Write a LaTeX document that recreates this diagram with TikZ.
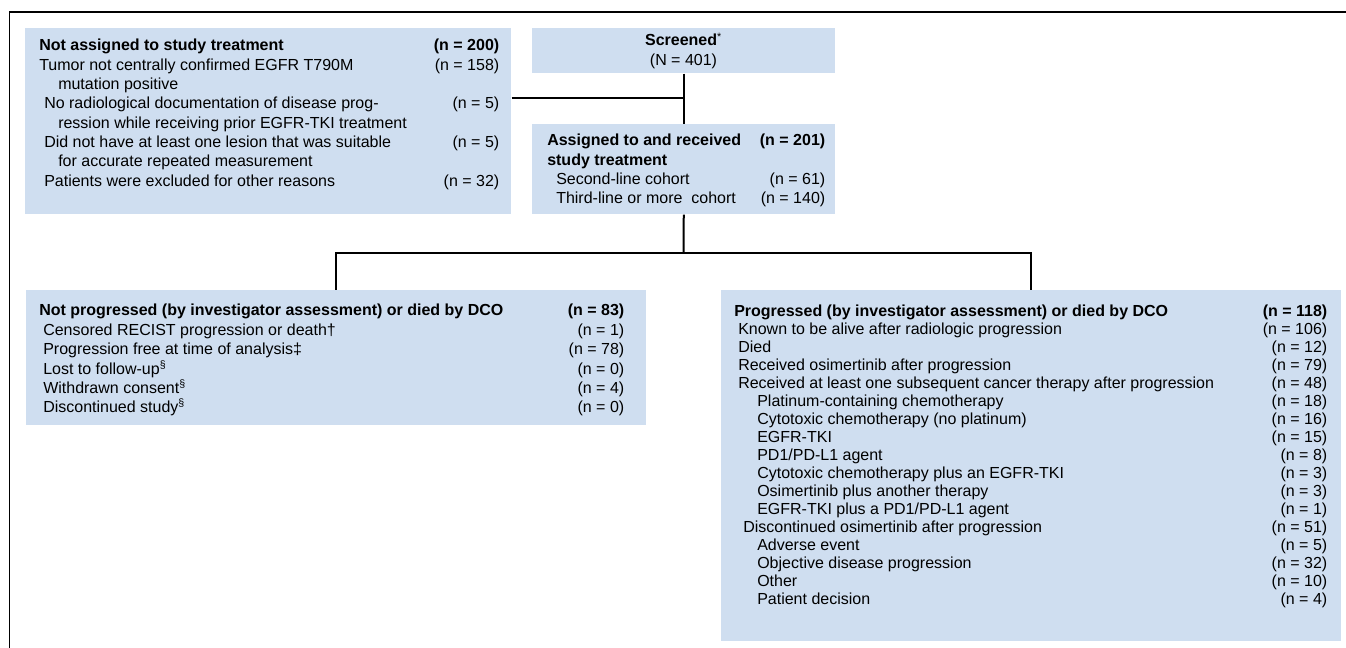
\documentclass[tikz,border=0pt]{standalone}
\usepackage{fontspec}
\setmainfont{Liberation Sans}
\definecolor{boxblue}{RGB}{207,222,240}
\newcommand\fcfont{\fontsize{12}{14.5}\selectfont}
\newcommand\fctight{\fontsize{12}{13.5}\selectfont}
\begin{document}
\begin{tikzpicture}[x=0.75pt,y=-0.75pt,
  box/.style={fill=boxblue,inner sep=0pt,anchor=north west},
  txt/.style={inner sep=0pt,anchor=base west,font=\fcfont},
  link/.style={line width=1.5pt}]
\useasboundingbox (0,0) rectangle (1346,648);
% frame
\draw[line width=1.1pt] (1346,12) -- (9.5,12) -- (9.5,648);

% boxes
\node[box,minimum width=364.5pt,minimum height=139.5pt] (notassigned) at (25,28) {};
\node[box,minimum width=227.25pt,minimum height=33.75pt] (screened) at (532,28) {};
\node[box,minimum width=227.25pt,minimum height=67.5pt] (assigned) at (532,124) {};
\node[box,minimum width=465pt,minimum height=101.25pt] (notprog) at (26,290) {};
\node[box,minimum width=465pt,minimum height=263.25pt] (prog) at (721,290) {};

% connectors
\coordinate (join) at (683.5,98.5);
\coordinate (split) at (683.5,253);
\draw[link] (screened.south) -- (assigned.north);
\draw[link] (notassigned.east |- join) -- (join);
\draw[link] (assigned.south) -- (split);
\draw[link] (notprog.north) |- (split) -| (prog.north);

% texts
\node[txt,anchor=base] (screened-txt) at (683.5,46) {\begin{tabular}[t]{@{}c@{}}
\textbf{Screened}\textsuperscript{*}\\
(N = 401)
\end{tabular}};

\node[txt] (notassigned-txt) at (39,51) {\begin{tabular*}{345pt}[t]{@{}l@{\extracolsep{\fill}}r@{}}
\textbf{Not assigned to study treatment} & \textbf{(n = 200)}\\
Tumor not centrally confirmed EGFR T790M & (n = 158)\\
\multicolumn{2}{@{}l@{}}{\hspace{14.25pt}mutation positive}\\
\hspace{3.75pt}No radiological documentation of disease prog- & (n = 5)\\
\multicolumn{2}{@{}l@{}}{\hspace{14.25pt}ression while receiving prior EGFR-TKI treatment}\\
\hspace{3.75pt}Did not have at least one lesion that was suitable & (n = 5)\\
\multicolumn{2}{@{}l@{}}{\hspace{14.25pt}for accurate repeated measurement}\\
\hspace{3.75pt}Patients were excluded for other reasons & (n = 32)
\end{tabular*}};

\node[txt] (assigned-txt) at (547,146) {\begin{tabular*}{208.5pt}[t]{@{}l@{\extracolsep{\fill}}r@{}}
\textbf{Assigned to and received} & \textbf{(n = 201)}\\
\multicolumn{2}{@{}l@{}}{\textbf{study treatment}}\\
\hspace{6.75pt}Second-line cohort & (n = 61)\\
\hspace{6.75pt}Third-line or more\ \ cohort & (n = 140)
\end{tabular*}};

\node[txt] (notprog-txt) at (39,316) {\begin{tabular*}{438.75pt}[t]{@{}l@{\extracolsep{\fill}}r@{}}
\textbf{Not progressed (by investigator assessment) or died by DCO} & \textbf{(n = 83)}\\
\hspace{3pt}Censored RECIST progression or death† & (n = 1)\\
\hspace{3pt}Progression free at time of analysis‡ & (n = 78)\\
\hspace{3pt}Lost to follow-up\textsuperscript{§} & (n = 0)\\
\hspace{3pt}Withdrawn consent\textsuperscript{§} & (n = 4)\\
\hspace{3pt}Discontinued study\textsuperscript{§} & (n = 0)
\end{tabular*}};

\node[txt,font=\fctight] (prog-txt) at (734,317) {\begin{tabular*}{444.75pt}[t]{@{}l@{\extracolsep{\fill}}r@{}}
\textbf{Progressed (by investigator assessment) or died by DCO} & \textbf{(n = 118)}\\
\hspace{3pt}Known to be alive after radiologic progression & (n = 106)\\
\hspace{3pt}Died & (n = 12)\\
\hspace{3pt}Received osimertinib after progression & (n = 79)\\
\hspace{3pt}Received at least one subsequent cancer therapy after progression & (n = 48)\\
\hspace{17.25pt}Platinum-containing chemotherapy & (n = 18)\\
\hspace{17.25pt}Cytotoxic chemotherapy (no platinum) & (n = 16)\\
\hspace{17.25pt}EGFR-TKI & (n = 15)\\
\hspace{17.25pt}PD1/PD-L1 agent & (n = 8)\\
\hspace{17.25pt}Cytotoxic chemotherapy plus an EGFR-TKI & (n = 3)\\
\hspace{17.25pt}Osimertinib plus another therapy & (n = 3)\\
\hspace{17.25pt}EGFR-TKI plus a PD1/PD-L1 agent & (n = 1)\\
\hspace{6.75pt}Discontinued osimertinib after progression & (n = 51)\\
\hspace{17.25pt}Adverse event & (n = 5)\\
\hspace{17.25pt}Objective disease progression & (n = 32)\\
\hspace{17.25pt}Other & (n = 10)\\
\hspace{17.25pt}Patient decision & (n = 4)
\end{tabular*}};
\end{tikzpicture}
\end{document}
